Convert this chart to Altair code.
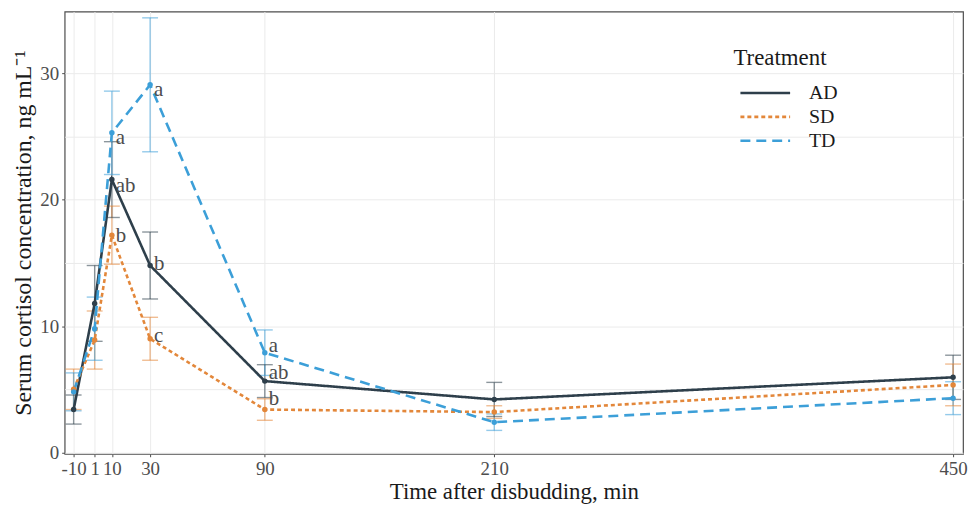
import altair as alt
import pandas as pd

# ---- data ----
times = [-10, 1, 10, 30, 90, 210, 450]
groups = ["AD", "SD", "TD"]

ad_mean = [3.4, 11.8, 21.6, 14.8, 5.65, 4.2, 5.95]
ad_se = [1.15, 3.0, 3.0, 2.65, 1.3, 1.35, 1.75]
sd_mean = [5.0, 8.9, 17.2, 9.0, 3.4, 3.2, 5.35]
sd_se = [1.6, 2.3, 2.3, 1.7, 0.85, 0.5, 1.65]
td_mean = [4.8, 9.8, 25.3, 29.1, 7.9, 2.4, 4.3]
td_se = [1.5, 2.5, 3.3, 5.3, 1.8, 0.65, 1.3]

label_times = [10, 10, 10, 30, 30, 30, 90, 90, 90]
label_groups = ["TD", "AD", "SD", "TD", "AD", "SD", "TD", "AD", "SD"]
label_text = ["a", "ab", "b", "a", "b", "c", "a", "ab", "b"]
label_y = [24.9, 21.1, 17.1, 28.7, 14.9, 9.2, 8.4, 6.3, 4.2]

x_ticks = [-10, 1, 10, 30, 90, 210, 450]
y_grid = [0, 5, 10, 15, 20, 25, 30]

colors = ["#2e3f4b", "#e3873a", "#3c9fd8"]
dashes = [[1, 0], [4, 3], [10, 6]]

rows = []
for g, means, ses in [("AD", ad_mean, ad_se), ("SD", sd_mean, sd_se), ("TD", td_mean, td_se)]:
    for t, m, s in zip(times, means, ses):
        rows.append({"time": t, "Treatment": g, "mean": m, "lo": m - s, "hi": m + s})
df = pd.DataFrame(rows)

lab = pd.DataFrame({"time": label_times, "Treatment": label_groups,
                    "text": label_text, "ly": label_y})

FONT = "Liberation Serif"

xs = alt.Scale(domain=[-14.7, 455.2], nice=False, zero=False)
ys = alt.Scale(domain=[-0.1, 34.9], nice=False, zero=False)

x_axis = alt.Axis(values=x_ticks, title="Time after disbudding, min",
                  labelExpr="'' + datum.value",
                  labelOverlap=False, labelFlush=False, grid=True)
y_axis = alt.Axis(values=y_grid, title="Serum cortisol concentration, ng mL⁻¹",
                  labelExpr="datum.value % 10 == 0 ? '' + datum.value : ''",
                  tickOpacity={"condition": {"test": "datum.value % 10 == 0", "value": 1}, "value": 0},
                  grid=True)

cscale = alt.Scale(domain=groups, range=colors)
color = alt.Color("Treatment:N", scale=cscale, title="Treatment")
dash = alt.StrokeDash("Treatment:N", scale=alt.Scale(domain=groups, range=dashes),
                      title="Treatment")

base = alt.Chart(df)

err = base.mark_rule(strokeWidth=1.4, opacity=0.55).encode(
    x=alt.X("time:Q", scale=xs, axis=x_axis),
    y=alt.Y("lo:Q", scale=ys, axis=y_axis),
    y2="hi:Q",
    color=color,
)
cap_lo = base.mark_tick(orient="horizontal", size=16, thickness=1.4, opacity=0.55).encode(
    x=alt.X("time:Q", scale=xs), y=alt.Y("lo:Q", scale=ys), color=color,
)
cap_hi = base.mark_tick(orient="horizontal", size=16, thickness=1.4, opacity=0.55).encode(
    x=alt.X("time:Q", scale=xs), y=alt.Y("hi:Q", scale=ys), color=color,
)

lines = base.mark_line(strokeWidth=2.6).encode(
    x=alt.X("time:Q", scale=xs),
    y=alt.Y("mean:Q", scale=ys),
    color=color,
    strokeDash=dash,
)
pts = base.mark_circle(size=30, opacity=1).encode(
    x=alt.X("time:Q", scale=xs),
    y=alt.Y("mean:Q", scale=ys),
    color=color,
)

texts = alt.Chart(lab).mark_text(align="left", baseline="middle", dx=4, font=FONT,
                                 fontSize=21, color="#4d4d4d").encode(
    x=alt.X("time:Q", scale=xs),
    y=alt.Y("ly:Q", scale=ys),
    text="text:N",
)

chart = alt.layer(err, cap_lo, cap_hi, lines, pts, texts).properties(
    width=904, height=445,
    padding={"left": 4, "top": 2, "right": 0, "bottom": 0},
).configure_view(
    stroke="#4d4d4d", strokeWidth=1.2
).configure_axis(
    domain=False,
    labelFont=FONT, labelFontSize=19, labelColor="#4d4d4d",
    titleFont=FONT, titleFontSize=24, titleColor="#1a1a1a", titleFontWeight="normal",
    tickColor="#4d4d4d", tickSize=3, labelPadding=3,
    gridColor="#ebebeb", gridWidth=1,
).configure_axisY(titlePadding=4).configure_axisX(titlePadding=2, titleFontSize=23).configure_legend(
    orient="none", legendX=673, legendY=36,
    titleFont=FONT, titleFontSize=23, titleFontWeight="normal", titleColor="#1a1a1a",
    labelFont=FONT, labelFontSize=20, labelColor="#1a1a1a",
    symbolType="M-2,0H2", symbolStrokeWidth=2.6, symbolSize=625, symbolOffset=18,
    symbolOpacity=1,
    labelOffset=30, rowPadding=0, titlePadding=9,
)

chart.save("out.html", embed_options={"renderer": "svg", "actions": False})
